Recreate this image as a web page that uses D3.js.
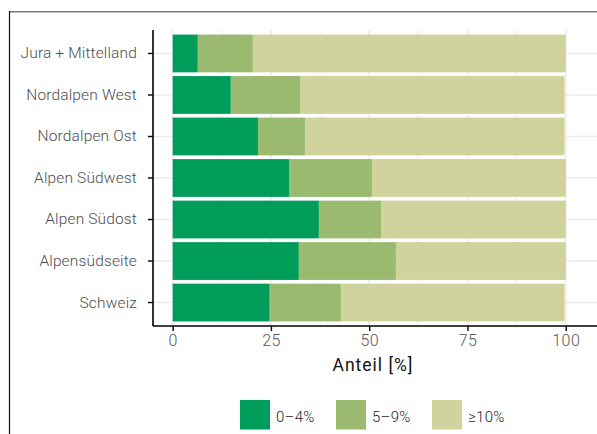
<!DOCTYPE html>
<html><head><meta charset="utf-8">
<script src="https://cdn.jsdelivr.net/npm/d3@7"></script>
<style>
body{margin:0;background:#fff;}
svg{display:block;font-family:Roboto, sans-serif;font-weight:300;}
</style></head>
<body><svg id="c" width="597" height="434"></svg>
<script>
const categories = ["Jura + Mittelland","Nordalpen West","Nordalpen Ost","Alpen Südwest","Alpen Südost","Alpensüdseite","Schweiz"];
const seriesNames = ["0–4%","5–9%","≥10%"];
const s0_4 = [6.4, 14.8, 21.7, 29.6, 37.2, 32.1, 24.7];
const s5_9 = [14.0, 17.6, 12.0, 21.1, 15.8, 24.7, 18.1];
const s10 = [79.6, 67.3, 66.0, 49.3, 47.0, 43.2, 56.9];
const xTicks = [0, 25, 50, 75, 100];
const xMinor = [12.5, 37.5, 62.5, 87.5];
const colors = ["#009c5a", "#99ba6f", "#d0d39b"];

const svg = d3.select("#c");
const x = d3.scaleLinear().domain([-5, 105]).range([153, 585.4]);
const y = d3.scaleBand().domain(categories).range([30, 326]).paddingInner(0.09).paddingOuter(0.11);

// frame
svg.append("line").attr("x1",9).attr("x2",597).attr("y1",11.8).attr("y2",11.8).attr("stroke","#7a7a7a").attr("stroke-width",1.6);
svg.append("line").attr("x1",9.5).attr("x2",9.5).attr("y1",11).attr("y2",434).attr("stroke","#111").attr("stroke-width",1.2);

// grid
const g = svg.append("g");
g.selectAll(".minor").data(xMinor).join("line")
  .attr("x1",d=>x(d)).attr("x2",d=>x(d)).attr("y1",30).attr("y2",326)
  .attr("stroke","#ededed").attr("stroke-width",1.2);
g.selectAll(".major").data(xTicks).join("line")
  .attr("x1",d=>x(d)).attr("x2",d=>x(d)).attr("y1",30).attr("y2",326)
  .attr("stroke","#ebebeb").attr("stroke-width",1.6);
g.selectAll(".hg").data(categories).join("line")
  .attr("x1",153).attr("x2",597).attr("y1",d=>y(d)+y.bandwidth()/2).attr("y2",d=>y(d)+y.bandwidth()/2)
  .attr("stroke","#ebebeb").attr("stroke-width",1.6);

// bars
const rows = categories.map((c,i)=>({cat:c, v:[s0_4[i], s5_9[i], s10[i]]}));
rows.forEach(r=>{
  let acc = 0;
  r.v.forEach((v,k)=>{
    svg.append("rect")
      .attr("x", x(acc)).attr("y", y(r.cat))
      .attr("width", x(acc+v)-x(acc)).attr("height", y.bandwidth())
      .attr("fill", colors[k]);
    acc += v;
  });
});

// axes
const xAxis = d3.axisBottom(x).tickValues(xTicks).tickSize(5).tickPadding(4);
const gx = svg.append("g").attr("transform","translate(0,326)").call(xAxis);
gx.select(".domain").attr("d","M153,0H597").attr("stroke","#000").attr("stroke-width",1.6);
gx.selectAll(".tick line").attr("stroke","#000").attr("stroke-width",1.4);
gx.selectAll(".tick text").attr("fill","#555").attr("font-size",16).attr("font-family","Roboto, sans-serif").attr("letter-spacing",0.4);

const yAxis = d3.axisLeft(y).tickSize(5).tickPadding(11);
const gy = svg.append("g").attr("transform","translate(153,0)").call(yAxis);
gy.select(".domain").attr("d","M0,30V326").attr("stroke","#000").attr("stroke-width",1.6);
gy.selectAll(".tick line").attr("stroke","#000").attr("stroke-width",1.4);
gy.selectAll(".tick text").attr("fill","#4d4d4d").attr("font-size",15.5).attr("font-family","Roboto, sans-serif").attr("letter-spacing",0.15);

svg.append("text").attr("x",373).attr("y",371).attr("text-anchor","middle")
  .attr("font-size",17.5).attr("font-weight",400).attr("fill","#111").attr("letter-spacing",1).text("Anteil [%]");

// legend
const legX = [240, 336, 432];
seriesNames.forEach((n,k)=>{
  svg.append("rect").attr("x",legX[k]).attr("y",400).attr("width",30).attr("height",29.5).attr("fill",colors[k]);
  svg.append("text").attr("x",legX[k]+36).attr("y",421.5).attr("font-size",15).attr("fill","#222").attr("letter-spacing",0.3).text(n);
});
</script>
</body></html>
